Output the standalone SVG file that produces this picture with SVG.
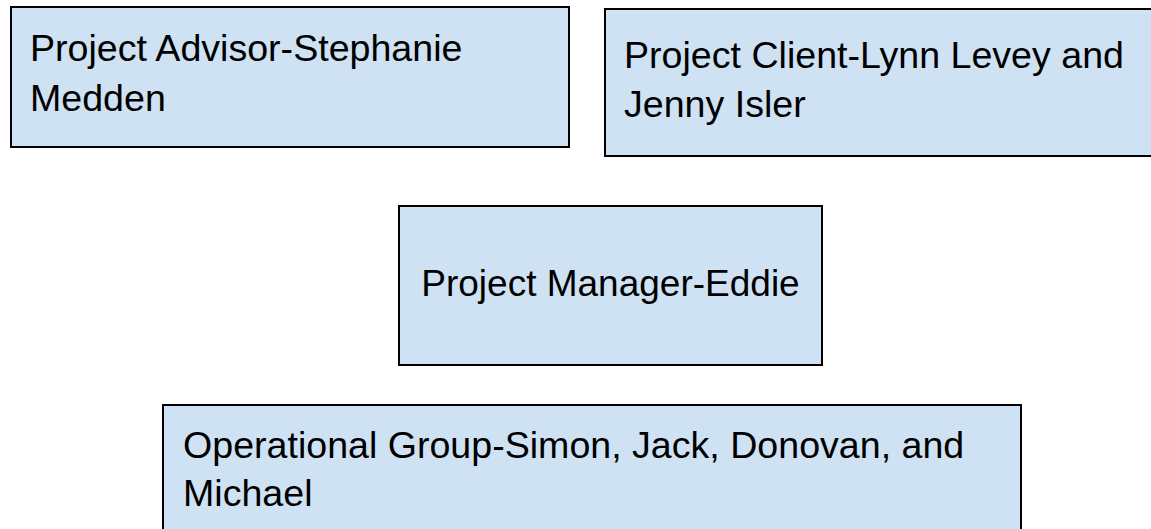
<svg xmlns="http://www.w3.org/2000/svg" width="1151" height="529" viewBox="0 0 1151 529">
<style>
.box{fill:#cfe2f3;stroke:#000000;stroke-width:2}
.t{font-family:"Liberation Sans",Arial,sans-serif;font-size:37.6px;fill:#000000}
.c{font-size:37px}
</style>
<rect width="1151" height="529" fill="#ffffff"/>
<g id="connectors"></g>
<g id="advisor">
<rect class="box" x="11" y="7" width="558" height="140"/>
<text class="t" x="30" y="61">Project Advisor-Stephanie</text>
<text class="t" x="30" y="111">Medden</text>
</g>
<g id="client">
<rect class="box" x="605" y="9" width="560" height="147"/>
<text class="t" x="624" y="68">Project Client-Lynn Levey and</text>
<text class="t" x="624" y="117">Jenny Isler</text>
</g>
<g id="manager">
<rect class="box" x="399" y="206" width="423" height="159"/>
<text class="t c" x="610.5" y="296" text-anchor="middle">Project Manager-Eddie</text>
</g>
<g id="operational">
<rect class="box" x="163" y="405" width="858" height="140"/>
<text class="t" x="183" y="458">Operational Group-Simon, Jack, Donovan, and</text>
<text class="t" x="183" y="506">Michael</text>
</g>
</svg>
